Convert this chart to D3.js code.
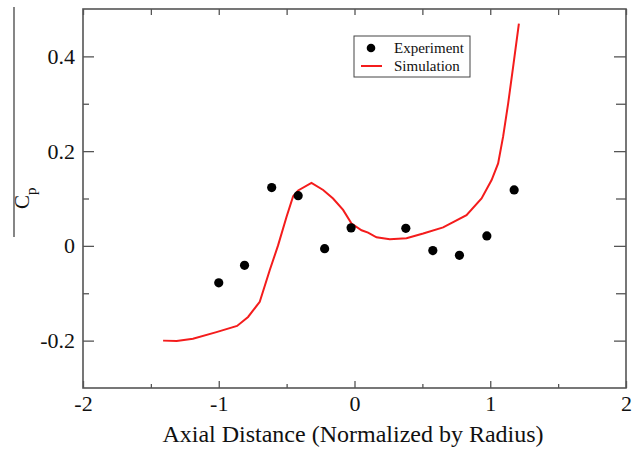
<!DOCTYPE html>
<html>
<head>
<meta charset="utf-8">
<script src="https://cdn.jsdelivr.net/npm/d3@7"></script>
<style>
  body { margin: 0; background: #fff; }
  text { font-family: "Liberation Serif", "Times New Roman", serif; fill: #111; }
</style>
</head>
<body>
<svg></svg>
<script>
const size = {w: 638, h: 450};
const margin = {t: 9, r: 12, b: 62, l: 83};
const svg = d3.select('svg').attr('width', size.w).attr('height', size.h);

// experiment points
const expX = [-1.0, -0.81, -0.61, -0.415, -0.22, -0.025, 0.378, 0.577, 0.773, 0.975, 1.176];
const expY = [-0.078, -0.041, 0.123, 0.106, -0.006, 0.038, 0.037, -0.010, -0.020, 0.021, 0.118];

// simulation curve
const simX = [-1.41, -1.31, -1.19, -1.017, -0.865, -0.784, -0.698, -0.624, -0.563, -0.501, -0.452, -0.415,
  -0.317, -0.231, -0.158, -0.084, -0.022, 0.052, 0.10, 0.162, 0.26, 0.383, 0.506, 0.653, 0.825, 0.936,
  1.01, 1.058, 1.095, 1.132, 1.169, 1.211];
const simY = [-0.200, -0.201, -0.196, -0.182, -0.169, -0.150, -0.118, -0.051, 0.001, 0.061, 0.105, 0.117,
  0.133, 0.118, 0.100, 0.076, 0.047, 0.033, 0.028, 0.018, 0.014, 0.016, 0.026, 0.039, 0.065, 0.100,
  0.139, 0.174, 0.231, 0.301, 0.379, 0.469];

const xTicks = [-2, -1, 0, 1, 2];
const xMinor = [-1.5, -0.5, 0.5, 1.5];
const yTicks = [-0.2, 0, 0.2, 0.4];
const yMinor = [-0.1, 0.1, 0.3];

const x = d3.scaleLinear().domain([-2, 2]).range([margin.l, size.w - margin.r]);
const y = d3.scaleLinear().domain([-0.3, 0.5]).range([size.h - margin.b, margin.t]);

const axisColor = '#555';
// plain hyphen for negatives, like the original
const fmtX = d => String(d);
const fmtY = d => d === 0 ? '0' : d.toFixed(1);

// frame
svg.append('rect')
  .attr('x', x(-2)).attr('y', y(0.5))
  .attr('width', x(2) - x(-2)).attr('height', y(-0.3) - y(0.5))
  .attr('fill', 'none').attr('stroke', axisColor).attr('stroke-width', 1.6);

// inward ticks on all four sides
function tickG(axis, transform) {
  const g = svg.append('g').attr('transform', transform).call(axis);
  g.select('.domain').remove();
  g.selectAll('line').attr('stroke', axisColor).attr('stroke-width', 1.3);
  return g;
}

const bottom = tickG(d3.axisBottom(x).tickValues(xTicks).tickSize(-7).tickPadding(7).tickFormat(fmtX),
  `translate(0,${y(-0.3)})`);
bottom.selectAll('text').style('font-size', '22px').attr('fill', '#111');
tickG(d3.axisBottom(x).tickValues(xMinor).tickSize(-4).tickFormat(''), `translate(0,${y(-0.3)})`);
tickG(d3.axisTop(x).tickValues(xTicks.concat(xMinor)).tickSize(-6).tickFormat(''), `translate(0,${y(0.5)})`);

const left = tickG(d3.axisLeft(y).tickValues(yTicks).tickSize(-11).tickPadding(8).tickFormat(fmtY),
  `translate(${x(-2)},0)`);
left.selectAll('text').style('font-size', '22px').attr('fill', '#111');
tickG(d3.axisLeft(y).tickValues(yMinor).tickSize(-6).tickFormat(''), `translate(${x(-2)},0)`);
tickG(d3.axisRight(y).tickValues(yTicks).tickSize(-12).tickFormat(''), `translate(${x(2)},0)`);
tickG(d3.axisRight(y).tickValues(yMinor).tickSize(-10).tickFormat(''), `translate(${x(2)},0)`);

// simulation line
const sim = simX.map((v, i) => [v, simY[i]]);
svg.append('path')
  .datum(sim)
  .attr('d', d3.line().x(d => x(d[0])).y(d => y(d[1])))
  .attr('fill', 'none').attr('stroke', '#f41c1c').attr('stroke-width', 2);

// experiment dots
svg.append('g').selectAll('circle')
  .data(expX.map((v, i) => [v, expY[i]]))
  .join('circle')
  .attr('cx', d => x(d[0])).attr('cy', d => y(d[1]))
  .attr('r', 4.6).attr('fill', '#000');

// axis titles
svg.append('text')
  .attr('x', 353).attr('y', 442)
  .attr('text-anchor', 'middle').style('font-size', '24px')
  .text('Axial Distance (Normalized by Radius)');

const yl = svg.append('text')
  .attr('transform', 'translate(29,209) rotate(-90)')
  .style('font-size', '21px');
yl.append('tspan').text('C');
yl.append('tspan').attr('dy', 7).style('font-size', '15px').text('p');

svg.append('line')
  .attr('x1', 14).attr('x2', 14).attr('y1', 7).attr('y2', 237)
  .attr('stroke', '#444').attr('stroke-width', 1.3);

// legend
const lg = svg.append('g');
lg.append('rect').attr('x', 354).attr('y', 36).attr('width', 116).attr('height', 41)
  .attr('fill', '#fff').attr('stroke', '#444').attr('stroke-width', 1);
lg.append('circle').attr('cx', 371).attr('cy', 48).attr('r', 4.3).attr('fill', '#000');
lg.append('line').attr('x1', 361).attr('x2', 382).attr('y1', 66).attr('y2', 66)
  .attr('stroke', '#f41c1c').attr('stroke-width', 2);
lg.append('text').attr('x', 394).attr('y', 53).style('font-size', '15px').text('Experiment');
lg.append('text').attr('x', 394).attr('y', 71).style('font-size', '15px').text('Simulation');
</script>
</body>
</html>
